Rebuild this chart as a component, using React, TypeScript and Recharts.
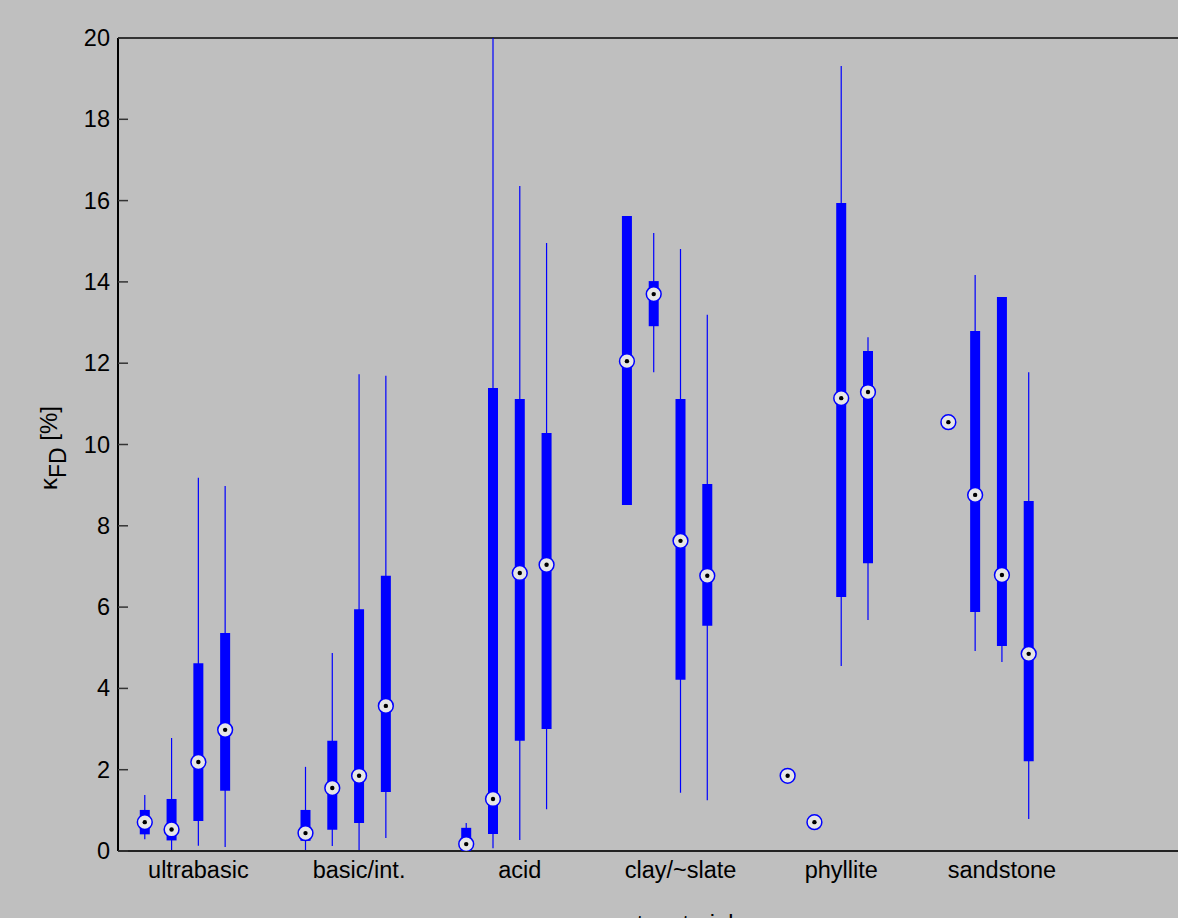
import { ErrorBar, ReferenceLine, Scatter, ScatterChart, XAxis, YAxis } from "recharts";

const categories = ["ultrabasic", "basic/int.", "acid", "clay/~slate", "phyllite", "sandstone"];
const yTicks = [0, 2, 4, 6, 8, 10, 12, 14, 16, 18, 20];

// four boxes per category
const whiskerLow = [
  0.29, 0, 0.13, 0.1,
  0, 0.12, 0, 0.32,
  0, 0.07, 0.27, 1.03,
  8.51, 11.78, 1.43, 1.25,
  1.85, 0.71, 4.55, 5.68,
  10.55, 4.92, 4.65, 0.79
];
const boxLow = [
  0.41, 0.26, 0.74, 1.48,
  0.25, 0.52, 0.69, 1.45,
  0.1, 0.42, 2.71, 3.0,
  8.51, 12.91, 4.21, 5.54,
  1.85, 0.71, 6.25, 7.08,
  10.55, 5.88, 5.04, 2.21
];
const median = [
  0.71, 0.53, 2.19, 2.98,
  0.44, 1.55, 1.85, 3.57,
  0.17, 1.28, 6.84, 7.04,
  12.05, 13.7, 7.63, 6.77,
  1.85, 0.71, 11.14, 11.29,
  10.55, 8.76, 6.79, 4.85
];
const boxHigh = [
  1.01, 1.28, 4.62, 5.36,
  1.01, 2.71, 5.95, 6.77,
  0.57, 11.39, 11.12, 10.28,
  15.62, 14.02, 11.12, 9.03,
  1.85, 0.71, 15.94, 12.3,
  10.55, 12.79, 13.63, 8.61
];
const whiskerHigh = [
  1.38, 2.78, 9.18, 8.98,
  2.07, 4.87, 11.73, 11.69,
  0.69, 20, 16.36, 14.96,
  15.62, 15.2, 14.81, 13.19,
  1.85, 0.71, 19.31, 12.64,
  10.55, 14.17, 13.63, 11.78
];

const rows = median.map((m, i) => ({
  x: Math.floor(i / 4) + ((i % 4) + 1) / 6,
  med: m,
  whisker: [m - whiskerLow[i], whiskerHigh[i] - m],
  box: [m - boxLow[i], boxHigh[i] - m]
}));

const font = '"Liberation Sans", Arial, Helvetica, sans-serif';
const blue = "#0000ff";

function MedianMark(props: any) {
  const { cx, cy } = props;
  return (
    <g>
      <circle cx={cx} cy={cy} r={7.4} fill="#e6e6e6" stroke={blue} strokeWidth={1.5} />
      <circle cx={cx} cy={cy} r={2.2} fill="#000" />
    </g>
  );
}

function YTick(props: any) {
  const { x, y, payload } = props;
  return (
    <g>
      <line x1={x + 8} x2={x + 18} y1={y} y2={y} stroke="#333" strokeWidth={1.5} />
      <text x={x} y={y + 8} textAnchor="end" fontSize={23.5} fontFamily={font} fill="#000">
        {payload.value}
      </text>
    </g>
  );
}

function XTick(props: any) {
  const { x, payload } = props;
  return (
    <text x={x} y={878} textAnchor="middle" fontSize={23.5} fontFamily={font} fill="#000">
      {categories[Math.round(payload.value - 0.5)]}
    </text>
  );
}

export default function App() {
  return (
    <div
      style={{
        position: "absolute",
        left: 0,
        top: 0,
        width: 1178,
        height: 918,
        overflow: "hidden",
        background: "#bfbfbf"
      }}
    >
      <ScatterChart width={1260} height={918} margin={{ top: 38, right: 17, bottom: 0, left: 0 }}>
        <XAxis
          type="number"
          dataKey="x"
          domain={[0, 7]}
          ticks={[0.5, 1.5, 2.5, 3.5, 4.5, 5.5]}
          tick={<XTick />}
          tickLine={false}
          axisLine={{ stroke: "#222", strokeWidth: 2 }}
          height={67}
          allowDataOverflow
          label={{
            content: () => (
              <text x={655} y={932} textAnchor="middle" fontSize={23.5} fontFamily={font} fill="#000">
                parent material
              </text>
            )
          }}
        />
        <YAxis
          type="number"
          dataKey="med"
          domain={[0, 20]}
          ticks={yTicks}
          tick={<YTick />}
          tickLine={false}
          tickSize={0}
          tickMargin={8}
          width={118}
          axisLine={{ stroke: "#000", strokeWidth: 2 }}
          allowDataOverflow
          label={{
            content: () => (
              <text
                transform="translate(57 448) rotate(-90)"
                textAnchor="middle"
                fontSize={24}
                fontFamily={font}
                fill="#000"
              >
                κ
                <tspan fontSize={23} dy={9}>FD</tspan>
                <tspan dy={-9}> [%]</tspan>
              </text>
            )
          }}
        />
        <ReferenceLine y={20} stroke="#333" strokeWidth={2} />
        <Scatter data={rows} isAnimationActive={false} shape={<MedianMark />}>
          <ErrorBar dataKey="whisker" direction="y" width={0} stroke={blue} strokeWidth={1.2} isAnimationActive={false} />
          <ErrorBar dataKey="box" direction="y" width={0} stroke={blue} strokeWidth={10} isAnimationActive={false} />
        </Scatter>
      </ScatterChart>
    </div>
  );
}
